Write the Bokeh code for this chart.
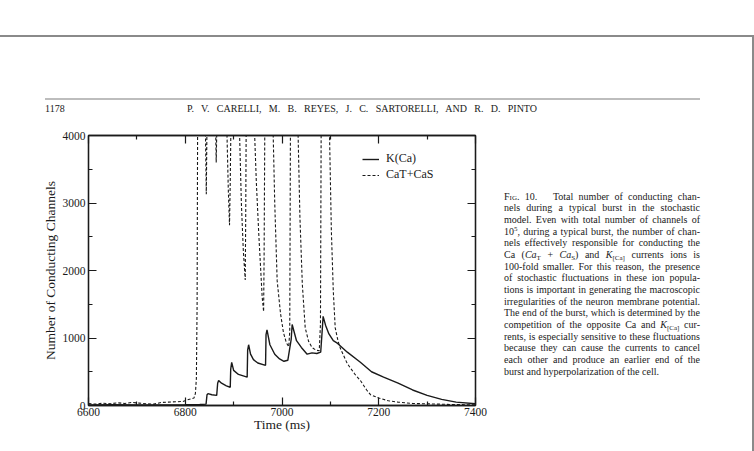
from bokeh.plotting import figure
from bokeh.models import Range1d, FixedTicker, LinearAxis, Legend, LegendItem, Div
from bokeh.layouts import column, row
from bokeh.embed import file_html
from bokeh.resources import INLINE

# ---------------- data ----------------
kca_time = [6600, 6650, 6700, 6750, 6800, 6830, 6843, 6845, 6847, 6855, 6865,
            6867, 6869, 6875, 6885, 6893, 6894, 6896, 6900, 6910, 6928,
            6929, 6931, 6935, 6941, 6950, 6966, 6967, 6969, 6975, 6985, 6995,
            7004, 7012, 7019, 7021, 7030, 7040, 7052, 7062, 7072, 7080, 7083,
            7085, 7090, 7097, 7106, 7115, 7135, 7162, 7185, 7210, 7240, 7270,
            7300, 7330, 7360, 7400]
kca_count = [10, 12, 8, 10, 12, 15, 20, 160, 175, 160, 150,
             330, 370, 330, 290, 270, 540, 640, 520, 460, 420,
             820, 900, 760, 680, 630, 595, 1050, 1120, 900, 760, 690,
             655, 670, 980, 1200, 960, 860, 760, 780, 770, 790, 1100,
             1320, 1190, 1060, 960, 920, 790, 640, 500, 420, 330, 230,
             150, 90, 50, 25]

ca_time = [6600, 6615, 6630, 6645, 6660, 6675, 6690, 6705, 6720, 6735, 6750,
           6765, 6780, 6795, 6805, 6812, 6818, 6821, 6823, 6824.5, 6825.5,
           6826.5, 6832, 6841.5, 6843.5, 6845, 6850,
           6857, 6862.5, 6864, 6865.5, 6872,
           6880, 6886, 6889, 6891.5, 6893, 6894.5, 6902,
           6906, 6912, 6916, 6920, 6924, 6925, 6926, 6934,
           6936, 6943, 6947, 6952, 6959, 6962, 6963, 6964.5, 6972,
           6974, 6981.5, 6985, 6990, 6997, 7003, 7009, 7014, 7016, 7017.5, 7025,
           7026, 7033, 7037, 7042, 7048, 7055, 7062, 7070, 7077, 7079.5, 7081, 7089,
           7090, 7098, 7102, 7106, 7110, 7116, 7121, 7135, 7150, 7162, 7175,
           7183, 7200, 7220, 7240, 7270, 7300, 7350, 7400]
ca_count = [30, 20, 35, 25, 40, 30, 45, 35, 25, 20, 45,
            50, 55, 60, 85, 100, 110, 180, 400, 1500, 4000,
            9000, 9000, 4200, 3130, 4200, 9000,
            9000, 4200, 3600, 4200, 9000,
            9000, 4100, 3200, 2670, 3300, 4200, 9000,
            9000, 4100, 3000, 2300, 1860, 2800, 4200, 9000,
            9000, 4100, 3300, 2540, 1610, 1390, 2200, 4200, 9000,
            9000, 4100, 3000, 1850, 1360, 1080, 930, 870, 1100, 4200, 9000,
            9000, 4100, 2800, 1800, 1150, 950, 860, 820, 810, 1200, 4200, 9000,
            9000, 4100, 2600, 1700, 1150, 950, 840, 620, 470, 370, 230,
            160, 110, 70, 50, 30, 25, 15, 10]

series_names = ["K(Ca)", "CaT+CaS"]
x_ticks = [6600, 6800, 7000, 7200, 7400]
x_minor = [6700, 6900, 7100, 7300]
y_ticks = [0, 1000, 2000, 3000, 4000]
y_minor = [500, 1500, 2500, 3500]

header_page = "1178"
header_authors = "P. V. CARELLI, M. B. REYES, J. C. SARTORELLI, AND R. D. PINTO"
caption_lines = [
    '<span style="font-variant:small-caps">Fig.</span> 10.&nbsp;&nbsp; Total number of conducting chan-',
    "nels during a typical burst in the stochastic",
    "model. Even with total number of channels of",
    '10<sup>5</sup>, during a typical burst, the number of chan-',
    "nels effectively responsible for conducting the",
    'Ca (<i>Ca</i><sub>T</sub> + <i>Ca</i><sub>S</sub>) and <i>K</i><sub>[Ca]</sub> currents ions is',
    "100-fold smaller. For this reason, the presence",
    "of stochastic fluctuations in these ion popula-",
    "tions is important in generating the macroscopic",
    "irregularities of the neuron membrane potential.",
    "The end of the burst, which is determined by the",
    'competition of the opposite Ca and <i>K</i><sub>[Ca]</sub> cur-',
    "rents, is especially sensitive to these fluctuations",
    "because they can cause the currents to cancel",
    "each other and produce an earlier end of the",
    "burst and hyperpolarization of the cell.",
]

# ---------------- layout ----------------
W, H = 754, 451
HEAD_H = 118          # height of the page-header strip
FIG_W = 500           # width of the figure canvas
FL, FR, FT, FB = 88, 475, 135, 405   # frame edges in window pixels
X0, X1, Y0, Y1 = 6600, 7400, 0, 4000
SERIF = "Liberation Serif"
INK = "#1a1a1a"
FRAME_GRAY = "#8a8a8a"

p = figure(width=FIG_W, height=H - HEAD_H, output_backend="svg", toolbar_location=None,
           x_range=Range1d(X0, X1), y_range=Range1d(Y0, Y1),
           min_border_left=FL, min_border_right=FIG_W - FR,
           min_border_top=FT - HEAD_H, min_border_bottom=H - FB,
           x_axis_label="Time (ms)", y_axis_label="Number of Conducting Channels",
           margin=0)
p.background_fill_color = "white"
p.border_fill_color = "white"
p.xgrid.visible = False
p.ygrid.visible = False
p.outline_line_color = INK
p.outline_line_width = 1.3

bottom_axis = p.below[0]
left_axis = p.left[0]
bottom_axis.ticker = FixedTicker(ticks=x_ticks, minor_ticks=x_minor)
left_axis.ticker = FixedTicker(ticks=y_ticks, minor_ticks=y_minor)
top_axis = LinearAxis(ticker=FixedTicker(ticks=x_ticks, minor_ticks=x_minor))
right_axis = LinearAxis(ticker=FixedTicker(ticks=y_ticks, minor_ticks=y_minor))
p.add_layout(top_axis, "above")
p.add_layout(right_axis, "right")

for ax in (bottom_axis, left_axis, top_axis, right_axis):
    ax.major_tick_in = 8
    ax.major_tick_out = 0
    ax.minor_tick_in = 4
    ax.minor_tick_out = 0
    ax.axis_line_color = INK
    ax.axis_line_width = 1.3
    ax.major_tick_line_color = INK
    ax.major_tick_line_width = 1.2
    ax.minor_tick_line_color = INK
    ax.minor_tick_line_width = 1.2
    ax.major_label_text_font = SERIF
    ax.major_label_text_font_size = "11.5px"
    ax.major_label_text_color = INK
    ax.axis_label_text_font = SERIF
    ax.axis_label_text_font_size = "13.5px"
    ax.axis_label_text_font_style = "normal"
    ax.axis_label_text_color = INK

for ax in (top_axis, right_axis):
    ax.major_label_text_font_size = "0px"
    ax.major_label_text_alpha = 0
    ax.major_label_standoff = 0
bottom_axis.major_label_standoff = 2
bottom_axis.axis_label_standoff = -2
left_axis.major_label_standoff = 3
left_axis.axis_label_standoff = 2

r_k = p.line(kca_time, kca_count, line_color=INK, line_width=1.4)
r_c = p.line(ca_time, ca_count, line_color=INK, line_width=1.1, line_dash="3 2")

legend = Legend(items=[LegendItem(label=series_names[0], renderers=[r_k]),
                       LegendItem(label=series_names[1], renderers=[r_c])],
                location=(274, 223), orientation="vertical",
                padding=0, margin=0, spacing=1, glyph_width=17, glyph_height=12,
                label_height=12, label_standoff=7,
                label_text_font=SERIF, label_text_font_size="12px", label_text_color=INK,
                border_line_alpha=0, background_fill_alpha=0)
p.add_layout(legend)

# ---------------- page header strip ----------------
head_html = f"""
<div style="position:relative;width:{W}px;height:{HEAD_H}px;overflow:hidden;font-family:'{SERIF}';color:{INK};">
  <div style="position:absolute;left:0px;top:35px;width:753px;height:2px;background:{FRAME_GRAY};"></div>
  <div style="position:absolute;left:752px;top:35px;width:2px;height:{HEAD_H - 35}px;background:{FRAME_GRAY};"></div>
  <div style="position:absolute;left:45px;top:98px;width:655px;height:2px;background:#bdbdbd;"></div>
  <div style="position:absolute;left:45px;top:103px;font-size:10px;line-height:12px;white-space:nowrap;">{header_page}</div>
  <div style="position:absolute;left:187px;top:103px;width:350px;font-size:10px;line-height:12px;white-space:nowrap;text-align:justify;text-align-last:justify;">{header_authors}</div>
</div>
"""
head = Div(text=head_html, width=W, height=HEAD_H, margin=0)

# ---------------- caption strip ----------------
CAP_W = W - FIG_W
cap_rows = "".join(
    f'<div style="height:11.67px;white-space:nowrap;text-align:justify;'
    f'text-align-last:{"justify" if i < len(caption_lines) - 1 else "left"};">{t}</div>'
    for i, t in enumerate(caption_lines))
cap_html = f"""
<style>
 sub {{font-size:7px;vertical-align:-2px;line-height:0;}}
 sup {{font-size:7px;vertical-align:4px;line-height:0;}}
</style>
<div style="position:relative;width:{CAP_W}px;height:{H - HEAD_H}px;overflow:hidden;font-family:'{SERIF}';color:{INK};">
  <div style="position:absolute;left:{752 - FIG_W}px;top:0px;width:2px;height:{H - HEAD_H}px;background:{FRAME_GRAY};"></div>
  <div style="position:absolute;left:{504 - FIG_W}px;top:{196.7 - 5.9 - HEAD_H:.1f}px;width:196px;font-size:10px;line-height:11.67px;">
    {cap_rows}
  </div>
</div>
"""
cap = Div(text=cap_html, width=CAP_W, height=H - HEAD_H, margin=0)

layout = column(head, row(p, cap, spacing=0, margin=0), spacing=0, margin=0)

open("out.html", "w").write(file_html(layout, INLINE))
